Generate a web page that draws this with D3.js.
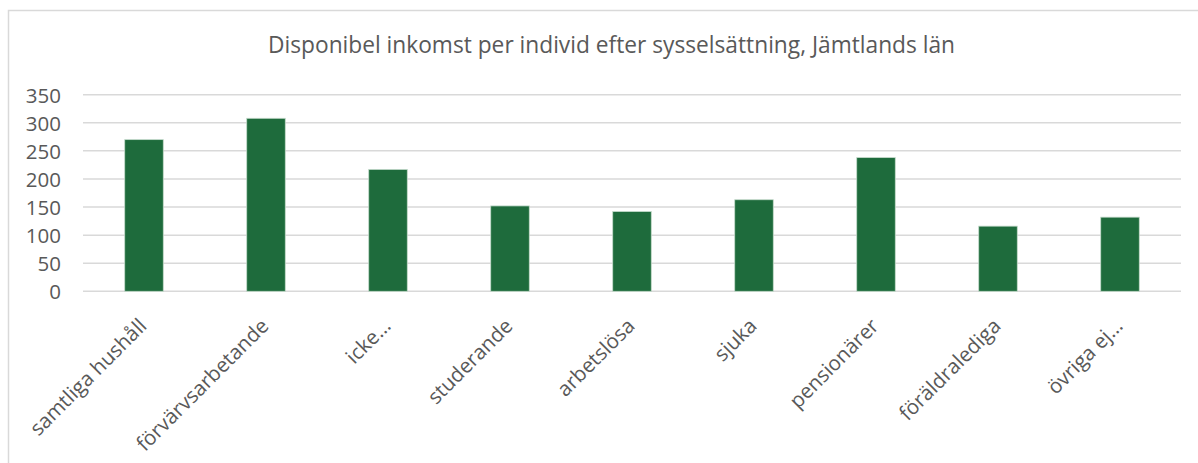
<!DOCTYPE html>
<html>
<head>
<meta charset="utf-8">
<script src="https://cdn.jsdelivr.net/npm/d3@7"></script>
<style>
  html, body { margin: 0; padding: 0; background: #fff; }
  svg { display: block; }
  text { font-family: "Open Sans", sans-serif; fill: #595959; }
</style>
</head>
<body>
<svg id="chart" width="1198" height="463"></svg>
<script>
const categories = ["samtliga hushåll", "förvärvsarbetande", "icke…", "studerande", "arbetslösa", "sjuka", "pensionärer", "föräldralediga", "övriga ej…"];
const values = [270, 308, 217, 152, 142, 163, 238, 116, 132];
const yTicks = [0, 50, 100, 150, 200, 250, 300, 350];
const title = "Disponibel inkomst per individ efter sysselsättning, Jämtlands län";

const svg = d3.select("#chart");

// chart frame (only top/left visible in the crop)
svg.append("path")
  .attr("d", "M8.5,463 L8.5,10.5 L1198,10.5")
  .attr("fill", "none")
  .attr("stroke", "#d9d9d9")
  .attr("stroke-width", 1.5);

const x = d3.scaleBand().domain(categories).range([83, 1181])
  .paddingInner(0.684).paddingOuter(0.342);
const y = d3.scaleLinear().domain([0, 350]).range([291.3, 94.7]);

// gridlines
svg.append("g").selectAll("line").data(yTicks).join("line")
  .attr("x1", 83).attr("x2", 1181)
  .attr("y1", d => y(d)).attr("y2", d => y(d))
  .attr("stroke", "#d9d9d9").attr("stroke-width", 1.5);

// y axis labels
const yAxis = d3.axisLeft(y).tickValues(yTicks).tickSize(0).tickPadding(0);
const gy = svg.append("g").attr("transform", "translate(61,0)").call(yAxis);
gy.select(".domain").remove();
gy.selectAll("text")
  .style("font-family", '"Open Sans", sans-serif')
  .style("font-size", "20.5px")
  .attr("fill", "#595959")
  .attr("dy", "0.36em");

// bars
svg.append("g").selectAll("rect").data(values).join("rect")
  .attr("x", (d, i) => x(categories[i]))
  .attr("width", x.bandwidth())
  .attr("y", d => y(d))
  .attr("height", d => y(0) - y(d))
  .attr("fill", "#1e6b3c")
  .attr("stroke", "#c4dacb")
  .attr("stroke-width", 0.8);

// x axis labels
const xAxis = d3.axisBottom(x).tickSize(0).tickPadding(0);
const gx = svg.append("g").attr("transform", `translate(0,${y(0)})`).call(xAxis);
gx.select(".domain").remove();
gx.selectAll("text")
  .style("font-family", '"Open Sans", sans-serif')
  .style("font-size", "20.5px")
  .attr("fill", "#595959")
  .attr("text-anchor", "end")
  .attr("dy", null)
  .attr("y", null)
  .attr("transform", "translate(4,36) rotate(-45)");

// title
const t = svg.append("text")
  .attr("x", 611.5).attr("y", 53)
  .attr("text-anchor", "middle")
  .style("font-size", "20px")
  .text(title);
const w = t.node().getComputedTextLength();
t.style("font-size", (20 * 687 / w).toFixed(2) + "px");
</script>
</body>
</html>
